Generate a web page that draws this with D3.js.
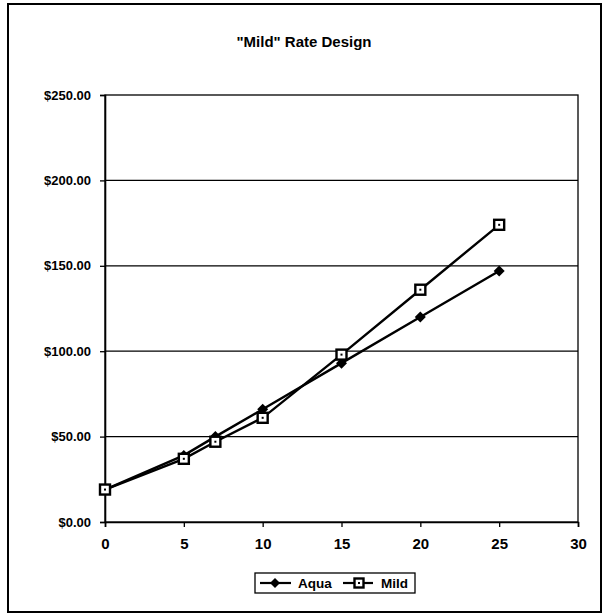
<!DOCTYPE html>
<html>
<head>
<meta charset="utf-8">
<script src="https://cdn.jsdelivr.net/npm/d3@7"></script>
<style>
  html, body { margin: 0; padding: 0; background: #fff; }
  svg { display: block; }
</style>
</head>
<body>
<svg id="chart" width="605" height="615"></svg>
<script>
const title = '"Mild" Rate Design';
const xValues = [0, 5, 7, 10, 15, 20, 25];
const aquaValues = [19, 39, 50, 66, 93, 120, 147];
const mildValues = [19, 37, 47, 61, 98, 136, 174];
const seriesNames = ["Aqua", "Mild"];
const xTicks = [0, 5, 10, 15, 20, 25, 30];
const yTicks = [0, 50, 100, 150, 200, 250];

(function () {
const svg = d3.select("#chart");
const font = "'Liberation Sans', Arial, sans-serif";

// outer frame
svg.append("rect").attr("x", 8).attr("y", 4).attr("width", 593).attr("height", 608)
  .attr("fill", "#fff").attr("stroke", "#000").attr("stroke-width", 2);

const pLeft = 105, pRight = 578, pTop = 95, pBottom = 522;
const x = d3.scaleLinear().domain([0, 30]).range([pLeft, pRight]);
const y = d3.scaleLinear().domain([0, 250]).range([pBottom, pTop]);

// title
svg.append("text").attr("x", 304).attr("y", 47).attr("text-anchor", "middle")
  .attr("font-family", font).attr("font-weight", "bold").attr("font-size", 15)
  .text(title);

// gridlines
svg.append("g").selectAll("line").data(yTicks.filter(d => d > 0 && d < 250)).join("line")
  .attr("x1", pLeft).attr("x2", pRight).attr("y1", d => y(d)).attr("y2", d => y(d))
  .attr("stroke", "#000").attr("stroke-width", 1.3);

// plot border
svg.append("rect").attr("x", pLeft).attr("y", pTop).attr("width", pRight - pLeft).attr("height", pBottom - pTop)
  .attr("fill", "none").attr("stroke", "#000").attr("stroke-width", 1.3);

// axes
const xAxis = d3.axisBottom(x).tickValues(xTicks).tickSize(5).tickPadding(11).tickFormat(d3.format("d"));
const gx = svg.append("g").attr("transform", `translate(0,${pBottom})`).call(xAxis);
const yAxis = d3.axisLeft(y).tickValues(yTicks).tickSize(5).tickPadding(9).tickFormat(d => "$" + d3.format(".2f")(d));
const gy = svg.append("g").attr("transform", `translate(${pLeft},0)`).call(yAxis);
[gx, gy].forEach(g => {
  g.select(".domain").attr("stroke", "#000").attr("stroke-width", 1.6);
  g.selectAll(".tick line").attr("stroke", "#000").attr("stroke-width", 1.3);
  g.selectAll("text").attr("font-family", font).attr("font-size", 13)
    .attr("font-weight", "bold").attr("fill", "#000");
});
gx.selectAll("text").attr("font-size", 15);

const data = xValues.map((xv, i) => ({ x: xv, aqua: aquaValues[i], mild: mildValues[i] }));
const lineA = d3.line().x(d => x(d.x)).y(d => y(d.aqua));
const lineM = d3.line().x(d => x(d.x)).y(d => y(d.mild));

svg.append("path").datum(data).attr("d", lineA).attr("fill", "none").attr("stroke", "#000").attr("stroke-width", 2.4);
svg.append("path").datum(data).attr("d", lineM).attr("fill", "none").attr("stroke", "#000").attr("stroke-width", 2.4);

function diamond(g, cx, cy, s) {
  g.append("path").attr("d", `M${cx},${cy - s}L${cx + s},${cy}L${cx},${cy + s}L${cx - s},${cy}Z`).attr("fill", "#000");
}
function square(g, cx, cy, s) {
  g.append("rect").attr("x", cx - s).attr("y", cy - s).attr("width", 2 * s).attr("height", 2 * s)
    .attr("fill", "#fff").attr("stroke", "#000").attr("stroke-width", 2.4);
  g.append("rect").attr("x", cx - 1).attr("y", cy - 1).attr("width", 2).attr("height", 2).attr("fill", "#000");
}
const gm = svg.append("g");
data.forEach(d => diamond(gm, x(d.x), y(d.aqua), 5.5));
data.forEach(d => square(gm, x(d.x), y(d.mild), 5));

// legend
const lg = svg.append("g");
lg.append("rect").attr("x", 255).attr("y", 573).attr("width", 160).attr("height", 20)
  .attr("fill", "#fff").attr("stroke", "#000").attr("stroke-width", 1.3);
const ly = 583;
lg.append("line").attr("x1", 260).attr("x2", 291).attr("y1", ly).attr("y2", ly).attr("stroke", "#000").attr("stroke-width", 2.2);
diamond(lg, 275, ly, 5);
lg.append("text").attr("x", 298).attr("y", ly + 5).attr("font-family", font).attr("font-size", 13.5).attr("font-weight", "bold").text(seriesNames[0]);
lg.append("line").attr("x1", 343).attr("x2", 373).attr("y1", ly).attr("y2", ly).attr("stroke", "#000").attr("stroke-width", 2.2);
square(lg, 359, ly, 4.5);
lg.append("text").attr("x", 381).attr("y", ly + 5).attr("font-family", font).attr("font-size", 13.5).attr("font-weight", "bold").text(seriesNames[1]);
})();
</script>
</body>
</html>
